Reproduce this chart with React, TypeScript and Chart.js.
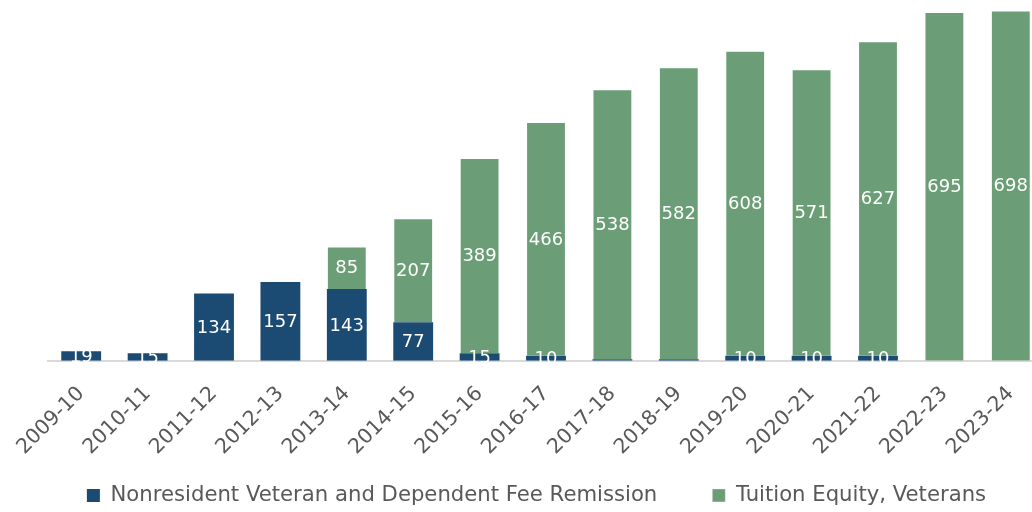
import React, { useEffect, useRef } from "react";
import { Chart, registerables } from "chart.js";

Chart.register(...registerables);

const categories = ["2009-10","2010-11","2011-12","2012-13","2013-14","2014-15","2015-16","2016-17","2017-18","2018-19","2019-20","2020-21","2021-22","2022-23","2023-24"];
const nonresidentValues = [19, 15, 134, 157, 143, 77, 15, 10, 3, 3, 10, 10, 10, null, null];
const tuitionValues = [null, null, null, null, 85, 207, 389, 466, 538, 582, 608, 571, 627, 695, 698];
const seriesNames = ["Nonresident Veteran and Dependent Fee Remission", "Tuition Equity, Veterans"];
const seriesColors = ["#1B4A72", "#6B9E76"];

const FONT = '"DejaVu Sans", sans-serif';

const labelPlugin = {
  id: "segLabels",
  afterDatasetsDraw(chart: any) {
    const ctx = chart.ctx;
    ctx.save();
    ctx.fillStyle = "#ffffff";
    ctx.font = `18px ${FONT}`;
    ctx.textAlign = "center";
    ctx.textBaseline = "middle";
    chart.data.datasets.forEach((ds: any, di: number) => {
      const meta = chart.getDatasetMeta(di);
      meta.data.forEach((el: any, i: number) => {
        const v = ds.data[i];
        if (v == null || v < 5) return;
        const y = (el.y + el.base) / 2;
        ctx.fillText(String(v), el.x, y + 1);
      });
    });
    ctx.restore();
  },
};

export default function App() {
  const ref = useRef<HTMLCanvasElement>(null);
  useEffect(() => {
    if (!ref.current) return;
    const chart = new Chart(ref.current, {
      type: "bar",
      data: {
        labels: categories,
        datasets: [
          { label: seriesNames[0], data: nonresidentValues, backgroundColor: seriesColors[0], barPercentage: 0.6, categoryPercentage: 1 },
          { label: seriesNames[1], data: tuitionValues, backgroundColor: seriesColors[1], borderColor: "rgba(255,255,255,0.35)", borderWidth: 1, barPercentage: 0.6, categoryPercentage: 1 },
        ],
      },
      options: {
        animation: false,
        responsive: false,
        maintainAspectRatio: false,
        layout: { padding: { left: 29, right: 0, top: 0, bottom: -4 } },
        scales: {
          x: {
            stacked: true,
            grid: { display: false },
            border: { display: true, color: "#D9D9D9", width: 2 },
            ticks: { color: "#595959", font: { family: FONT, size: 20.5 }, minRotation: 45, maxRotation: 45, padding: 13 },
            afterFit: (scale: any) => {
              scale.height = 69;
              scale._computeLabelArea = () => undefined;
            },
          },
          y: {
            stacked: true,
            display: true,
            min: 0,
            max: 719,
            grid: { display: false },
            border: { display: false },
            ticks: { display: false },
            afterFit: (scale: any) => { scale.width = 19; },
          },
        },
        plugins: {
          legend: {
            position: "bottom",
            labels: { color: "#595959", font: { family: FONT, size: 21.2 }, boxWidth: 13, boxHeight: 13, padding: 55 },
          },
          tooltip: { enabled: false },
        },
      },
      plugins: [labelPlugin],
    });
    return () => chart.destroy();
  }, []);
  return (
    <div style={{ position: "fixed", left: 0, top: 0, width: 1032, height: 512, overflow: "hidden", background: "#fff" }}>
      <canvas ref={ref} width={1044} height={512} style={{ display: "block" }} />
    </div>
  );
}
